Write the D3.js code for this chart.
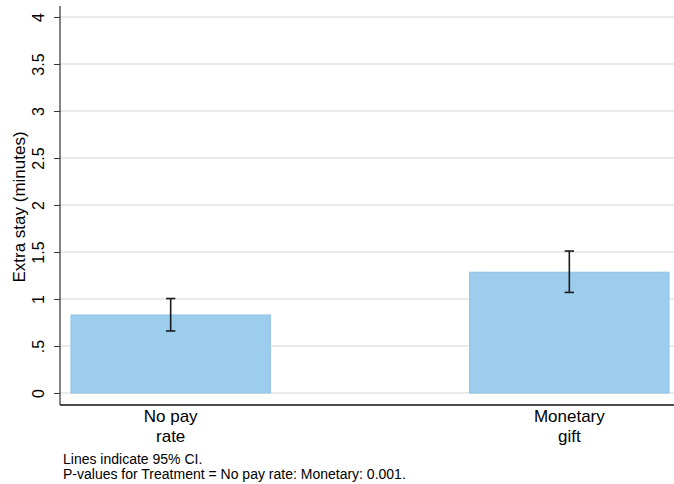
<!DOCTYPE html>
<html><head><meta charset="utf-8">
<script src="https://cdn.jsdelivr.net/npm/d3@7"></script>
<style>body{margin:0;background:#fff}svg{display:block}text{font-family:"Liberation Sans",Arial,Helvetica,sans-serif;fill:#000}</style>
</head><body>
<script>
const categories = ["No pay rate", "Monetary gift"];
const categoryLines = [["No pay", "rate"], ["Monetary", "gift"]];
const means = [0.83, 1.285];
const ciLow = [0.66, 1.07];
const ciHigh = [1.005, 1.51];
const yTicks = [0, 0.5, 1, 1.5, 2, 2.5, 3, 3.5, 4];
const yTickLabels = ["0", ".5", "1", "1.5", "2", "2.5", "3", "3.5", "4"];
const yTitle = "Extra stay (minutes)";
const notes = ["Lines indicate 95% CI.", "P-values for Treatment = No pay rate: Monetary: 0.001."];

const W = 674, H = 484;
const svg = d3.select("body").append("svg").attr("width", W).attr("height", H);
const x0 = 60, yBase = 405;
const y = d3.scaleLinear().domain([0, 4]).range([393, 17]);
const x = d3.scaleBand().domain(categories).range([60, 680]).paddingInner(0.5).paddingOuter(0.0276);

// gridlines
svg.append("g").selectAll("line").data(yTicks).join("line")
  .attr("x1", x0).attr("x2", W).attr("y1", d => y(d)).attr("y2", d => y(d))
  .attr("stroke", "#e3e3e3").attr("stroke-width", 1.5);

// bars
svg.append("g").selectAll("rect").data(categories).join("rect")
  .attr("x", d => x(d)).attr("width", x.bandwidth())
  .attr("y", (d, i) => y(means[i])).attr("height", (d, i) => y(0) - y(means[i]))
  .attr("fill", "#9dcdec").attr("stroke", "#8cc2e6").attr("stroke-width", 1);

// error bars
const eg = svg.append("g").attr("stroke", "#1a1a1a").attr("stroke-width", 1.6);
categories.forEach((c, i) => {
  const cx = x(c) + x.bandwidth() / 2;
  eg.append("line").attr("x1", cx).attr("x2", cx).attr("y1", y(ciLow[i])).attr("y2", y(ciHigh[i]));
  eg.append("line").attr("x1", cx - 4.7).attr("x2", cx + 4.7).attr("y1", y(ciLow[i])).attr("y2", y(ciLow[i]));
  eg.append("line").attr("x1", cx - 4.7).attr("x2", cx + 4.7).attr("y1", y(ciHigh[i])).attr("y2", y(ciHigh[i]));
});

// y axis
const yAxis = d3.axisLeft(y).tickValues(yTicks).tickSize(6).tickPadding(4)
  .tickFormat((d, i) => yTickLabels[i]);
const ga = svg.append("g").attr("transform", `translate(${x0},0)`).call(yAxis);
ga.select(".domain").remove();
ga.selectAll(".tick line").attr("stroke", "#333").attr("stroke-width", 1);
ga.selectAll(".tick text")
  .attr("font-size", 16).attr("text-anchor", "middle")
  .attr("x", null).attr("dy", null).attr("y", null)
  .attr("transform", `translate(${44 - x0},0) rotate(-90)`);
svg.append("line").attr("x1", x0).attr("x2", x0).attr("y1", 6).attr("y2", yBase)
  .attr("stroke", "#333").attr("stroke-width", 1.2);
svg.append("line").attr("x1", x0).attr("x2", W).attr("y1", yBase).attr("y2", yBase)
  .attr("stroke", "#111").attr("stroke-width", 1.5);

// y title
svg.append("text").attr("transform", `translate(25,${207}) rotate(-90)`)
  .attr("text-anchor", "middle").attr("font-size", 17).text(yTitle);

// x labels
categories.forEach((c, i) => {
  const cx = x(c) + x.bandwidth() / 2;
  categoryLines[i].forEach((t, j) => {
    svg.append("text").attr("x", cx).attr("y", 422 + j * 20).attr("text-anchor", "middle")
      .attr("font-size", 17).text(t);
  });
});

// notes
notes.forEach((t, j) => {
  svg.append("text").attr("x", 63).attr("y", 464 + j * 15).attr("font-size", 14).text(t);
});
</script>
</body></html>
